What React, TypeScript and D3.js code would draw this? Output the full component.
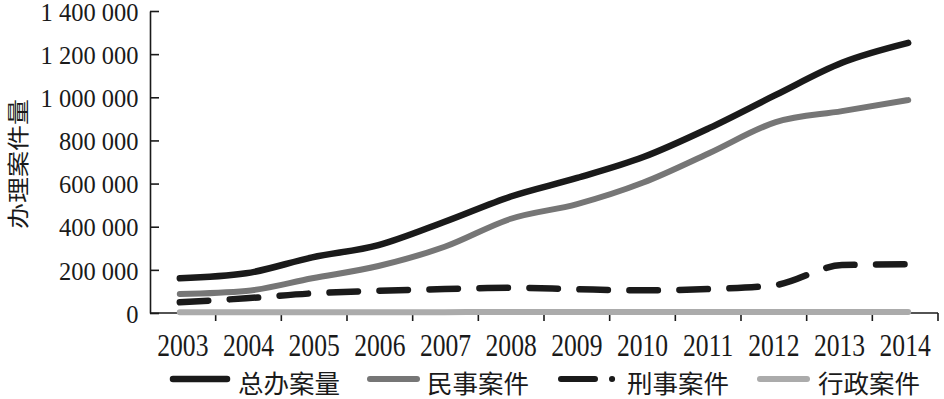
import React, { useEffect, useRef } from "react";
import * as d3 from "d3";

// values
const years = ["2003", "2004", "2005", "2006", "2007", "2008", "2009", "2010", "2011", "2012", "2013", "2014"];
const totalCases = [161000, 184000, 258000, 315000, 423000, 540000, 626000, 723000, 858000, 1011000, 1160000, 1252000];
const civilCases = [88000, 102000, 161000, 218000, 307000, 437000, 505000, 605000, 742000, 885000, 936000, 987000];
const criminalCases = [50000, 68000, 91000, 103000, 111000, 117000, 110000, 105000, 111000, 130000, 222000, 226000];
const adminCases = [3000, 3200, 3500, 3800, 4000, 4200, 4300, 4500, 4600, 4800, 5000, 5200];
const seriesNames = ["总办案量", "民事案件", "刑事案件", "行政案件"];
const yTicks = [0, 200000, 400000, 600000, 800000, 1000000, 1200000, 1400000];
const yTitle = "办理案件量";

export default function App() {
  const ref = useRef<SVGSVGElement>(null);

  useEffect(() => {
    const svg = d3.select(ref.current);
    svg.selectAll("*").remove();

    const left = 150, right = 938, top = 11, bottom = 313;
    const serif = "'Liberation Serif', 'Times New Roman', serif";
    const cjk = "'Noto Sans CJK SC', sans-serif";

    const y = d3.scaleLinear().domain([0, 1400000]).range([bottom, top]);
    const xBand = d3.scaleBand().domain(years).range([left, right]);
    const xPoint = d3.scalePoint().domain(years).range([left, right]).padding(0.45);

    // y axis, ticks pointing inward
    const yAxis = svg.append("g")
      .attr("transform", `translate(${left},0)`)
      .call(d3.axisLeft(y).tickValues(yTicks).tickSizeInner(-9).tickSizeOuter(0).tickPadding(12)
        .tickFormat((d: any) => d3.format(",")(d).replace(/,/g, " ")));
    yAxis.select(".domain").attr("stroke", "#1a1a1a").attr("stroke-width", 1.6);
    yAxis.selectAll(".tick line").attr("stroke", "#1a1a1a").attr("stroke-width", 1.6);
    yAxis.selectAll(".tick text")
      .attr("font-family", serif)
      .attr("font-size", 25.5)
      .attr("dy", "0.36em")
      .attr("fill", "#1a1a1a")
      .attr("transform", "scale(0.96,1)");

    // x axis, ticks on band boundaries
    const xg = svg.append("g");
    xg.append("line")
      .attr("x1", left).attr("x2", right)
      .attr("y1", bottom).attr("y2", bottom)
      .attr("stroke", "#1a1a1a").attr("stroke-width", 1.6);
    xg.selectAll(".xtick").data(years).join("line")
      .attr("class", "xtick")
      .attr("x1", d => xBand(d)! + xBand.bandwidth())
      .attr("x2", d => xBand(d)! + xBand.bandwidth())
      .attr("y1", bottom).attr("y2", bottom + 8)
      .attr("stroke", "#1a1a1a").attr("stroke-width", 1.6);
    xg.selectAll(".xlabel").data(years).join("text")
      .attr("class", "xlabel")
      .attr("transform", d => `translate(${xBand(d)! + xBand.bandwidth() / 2},356) scale(0.8,1)`)
      .attr("text-anchor", "middle")
      .attr("font-family", serif)
      .attr("font-size", 32)
      .attr("fill", "#1a1a1a")
      .text(d => d);

    // y axis title
    svg.append("text")
      .attr("transform", "translate(16,164) scale(0.85,1) rotate(-90)")
      .attr("text-anchor", "middle")
      .attr("dominant-baseline", "central")
      .attr("font-family", cjk)
      .attr("font-size", 26)
      .attr("fill", "#1a1a1a")
      .text(yTitle);

    const series = [
      { name: seriesNames[0], values: totalCases, color: "#1a1a1a", width: 6.5, dash: null },
      { name: seriesNames[1], values: civilCases, color: "#767676", width: 6, dash: null },
      { name: seriesNames[2], values: criminalCases, color: "#1a1a1a", width: 6.5, dash: "28.5 21.5" },
      { name: seriesNames[3], values: adminCases, color: "#ababab", width: 6, dash: null },
    ];

    const line = d3.line<number>()
      .x((_, i) => xPoint(years[i])!)
      .y(d => y(d))
      .curve(d3.curveMonotoneX);

    // draw admin first so the others sit on top
    [3, 1, 2, 0].forEach(k => {
      const s = series[k];
      svg.append("path")
        .attr("d", line(s.values))
        .attr("fill", "none")
        .attr("stroke", s.color)
        .attr("stroke-width", s.width)
        .attr("stroke-linecap", "round")
        .attr("stroke-linejoin", "round")
        .attr("stroke-dasharray", s.dash);
    });

    // legend
    const legendX = [170, 367, 558, 757];
    const legendLen = [60, 53, 58, 53];
    const textOff = [68, 60, 69, 61];
    const lg = svg.append("g");
    series.forEach((s, i) => {
      lg.append("line")
        .attr("x1", legendX[i] + 3).attr("x2", legendX[i] + legendLen[i] - 3)
        .attr("y1", 379).attr("y2", 379)
        .attr("stroke", s.color)
        .attr("stroke-width", i === 0 ? 6.5 : 6)
        .attr("stroke-linecap", "round")
        .attr("stroke-dasharray", s.dash ? "34 17 0.1 50" : null);
      lg.append("text")
        .attr("x", legendX[i] + textOff[i])
        .attr("y", 393)
        .attr("font-family", cjk)
        .attr("font-size", 25.5)
        .attr("fill", "#1a1a1a")
        .text(s.name);
    });
  }, []);

  return (
    <svg ref={ref} width={944} height={399} style={{ position: "absolute", left: 0, top: 0, background: "#fff" }} />
  );
}
